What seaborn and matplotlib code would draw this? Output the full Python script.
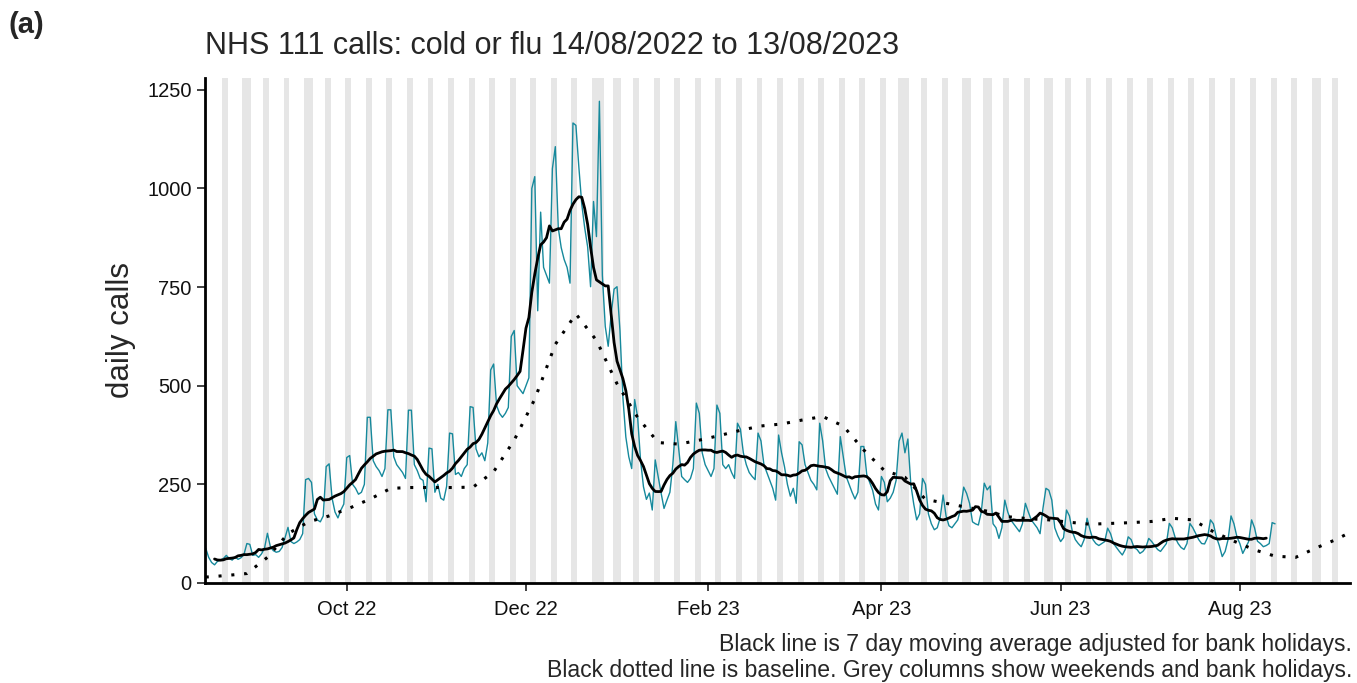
import pandas as pd
import matplotlib.pyplot as plt
import matplotlib.dates as mdates
import seaborn as sns

# Daily NHS 111 calls (cold or flu), one list per month
calls_aug22 = [88, 65, 52, 46, 55, 58, 62, 70, 62, 58, 66, 60, 64, 72, 100, 98, 70, 72]
calls_sep22 = [65, 74, 88, 126, 92, 82, 78, 80, 90, 115, 141, 105, 100, 104, 110, 125, 262,
               265, 255, 175, 160, 155, 170, 295, 302, 215, 180, 165, 185, 200]
calls_oct22 = [318, 323, 250, 240, 225, 230, 250, 420, 420, 310, 295, 285, 270, 290, 439,
               439, 320, 300, 290, 280, 265, 438, 438, 300, 285, 265, 260, 206, 342, 340, 230]
calls_nov22 = [250, 215, 210, 245, 380, 378, 275, 280, 270, 290, 300, 447, 445, 340, 320,
               330, 310, 355, 540, 555, 450, 430, 420, 430, 445, 625, 640, 500, 490, 480]
calls_dec22 = [500, 520, 1000, 1030, 690, 940, 800, 780, 760, 1050, 1106, 900, 850, 820, 800,
               760, 1166, 1160, 1055, 960, 900, 852, 751, 967, 878, 1221, 780, 650, 600, 680, 745]
calls_jan23 = [751, 640, 470, 370, 320, 290, 465, 421, 312, 244, 212, 228, 185, 312, 270,
               228, 189, 210, 230, 300, 409, 340, 270, 262, 255, 265, 290, 456, 430, 330, 300]
calls_feb23 = [285, 270, 290, 451, 430, 300, 290, 300, 280, 265, 405, 390, 330, 300, 280,
               270, 262, 380, 360, 300, 280, 260, 240, 210, 375, 330, 295, 250]
calls_mar23 = [220, 240, 202, 358, 350, 300, 280, 260, 250, 236, 405, 360, 290, 270, 255,
               240, 225, 371, 320, 270, 250, 230, 213, 230, 346, 346, 275, 255, 235, 200, 185]
calls_apr23 = [270, 255, 206, 215, 230, 260, 360, 380, 330, 365, 250, 200, 160, 175, 265,
               250, 175, 150, 135, 140, 165, 223, 170, 145, 140, 150, 160, 190, 243, 227]
calls_may23 = [202, 155, 150, 147, 180, 253, 236, 246, 150, 140, 113, 140, 210, 180, 160,
               150, 140, 130, 150, 202, 180, 160, 150, 140, 125, 190, 240, 235, 210, 140, 120]
calls_jun23 = [105, 115, 185, 170, 130, 110, 100, 92, 110, 164, 135, 110, 100, 95, 100,
               105, 139, 125, 100, 90, 80, 71, 85, 117, 110, 90, 85, 75, 80, 90]
calls_jul23 = [113, 105, 95, 85, 80, 90, 100, 151, 140, 115, 100, 90, 85, 100, 151,
               140, 125, 110, 100, 99, 115, 160, 150, 117, 95, 67, 80, 110, 170, 150, 117]
calls_aug23 = [100, 75, 90, 105, 160, 140, 106, 100, 92, 95, 100, 153, 150]

# Baseline, one value per week starting Sunday 14/08/2022
baseline = [15, 19, 24, 65, 125, 155, 170, 190, 213, 240, 242, 242, 242, 243, 282, 362, 466,
            605, 682, 615, 505, 420, 356, 352, 362, 374, 387, 398, 403, 413, 422, 398, 337,
            285, 268, 212, 202, 192, 182, 168, 163, 160, 154, 149, 151, 153, 156, 164, 160,
            130, 106, 84, 68, 65, 89, 111, 138]

bank_holidays = ['2022-08-29', '2022-09-19', '2022-12-26', '2022-12-27', '2023-01-02',
                 '2023-04-07', '2023-04-10', '2023-05-01', '2023-05-08', '2023-05-29',
                 '2023-08-28']

start = pd.Timestamp('2022-08-14')
x_end = pd.Timestamp('2023-09-07 12:00')

calls = (calls_aug22 + calls_sep22 + calls_oct22 + calls_nov22 + calls_dec22 + calls_jan23
         + calls_feb23 + calls_mar23 + calls_apr23 + calls_may23 + calls_jun23 + calls_jul23
         + calls_aug23)
df = pd.DataFrame({'date': pd.date_range(start, periods=len(calls), freq='D'), 'calls': calls})
bh = pd.to_datetime(bank_holidays)
df['bh'] = df['date'].isin(bh)

# 7 day centred moving average, skipping bank holidays
non_bh = df.loc[~df['bh'], ['date', 'calls']].set_index('date')['calls']
ma = non_bh.rolling(7, center=True).mean()
df['ma'] = ma.reindex(df['date']).interpolate(limit_area='inside').values

base = pd.DataFrame({'date': pd.date_range(start, periods=len(baseline), freq='7D'),
                     'baseline': baseline})

sns.set_theme(style='ticks')
plt.rcParams['font.family'] = ['Liberation Sans', 'DejaVu Sans']

fig = plt.figure(figsize=(13.57, 6.83), dpi=100)
ax = fig.add_axes([205 / 1357, 1 - 583 / 683, (1350 - 205) / 1357, (583 - 78) / 683])

# grey columns for weekends and bank holidays
for d in pd.date_range(start - pd.Timedelta(days=1), x_end, freq='D'):
    if d.weekday() >= 5 or d in bh:
        ax.axvspan(d - pd.Timedelta(hours=12), d + pd.Timedelta(hours=12),
                   color='#e6e6e6', lw=0, zorder=0)

sns.lineplot(data=df, x='date', y='calls', color='#16899c', lw=1.0, estimator=None, ax=ax)
sns.lineplot(data=df.dropna(subset=['ma']), x='date', y='ma', color='black', lw=2.0,
             estimator=None, ax=ax)
sns.lineplot(data=base, x='date', y='baseline', color='black', lw=2.2,
             linestyle=(0, (1, 3.2)), estimator=None, ax=ax)

ax.set_xlim(start - pd.Timedelta(hours=6), x_end)
ax.set_ylim(0, 1280)
ax.set_yticks([0, 250, 500, 750, 1000, 1250])
ax.xaxis.set_major_locator(mdates.MonthLocator(bymonth=[2, 4, 6, 8, 10, 12]))
ax.xaxis.set_major_formatter(mdates.DateFormatter('%b %y'))
ax.set_xlabel('')
ax.set_ylabel('')
ax.tick_params(axis='both', labelsize=14.5, length=6, width=1.3, color='#333333',
               labelcolor='#111111')
ax.tick_params(axis='x', pad=6)
for side in ['top', 'right']:
    ax.spines[side].set_visible(False)
for side in ['left', 'bottom']:
    ax.spines[side].set_linewidth(2)
    ax.spines[side].set_color('black')

fig.text(8 / 1357, 1 - 25 / 683, '(a)', fontsize=21, fontweight='bold', va='center', ha='left')
fig.text(205 / 1357, 1 - 46 / 683, 'NHS 111 calls: cold or flu 14/08/2022 to 13/08/2023',
         fontsize=22, va='center', ha='left')
fig.text(121 / 1357, 1 - 330 / 683, 'daily calls', fontsize=22.5, rotation=90,
         va='center', ha='center')
fig.text(1352 / 1357, 1 - 645 / 683,
         'Black line is 7 day moving average adjusted for bank holidays.',
         fontsize=16.6, va='center', ha='right')
fig.text(1352 / 1357, 1 - 670 / 683,
         'Black dotted line is baseline. Grey columns show weekends and bank holidays.',
         fontsize=16.6, va='center', ha='right')

fig.savefig('out.png', dpi=100)
